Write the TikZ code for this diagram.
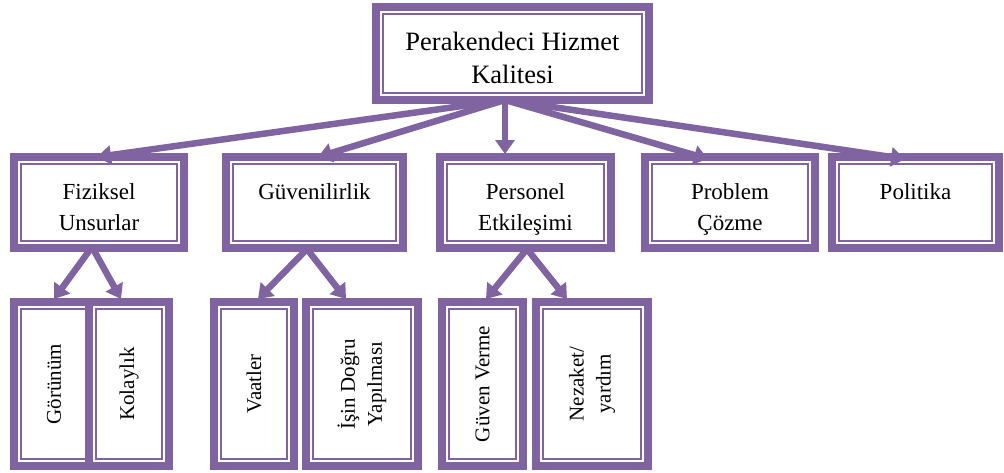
\documentclass[tikz,border=0pt]{standalone}
\usepackage{fontspec}
\setmainfont{Liberation Serif}
\usetikzlibrary{arrows.meta,calc}
\definecolor{pur}{HTML}{8064A2}
\tikzset{
  frame/.style={draw=pur, fill=white, line width=8pt, inner sep=0pt, outer sep=0pt},
  innerline/.style={draw=pur, line width=1.8pt},
  textA/.style={inner sep=0pt, align=center, font=\fontsize{26.5}{33}\selectfont},
  textB/.style={inner sep=0pt, align=center, anchor=north, font=\fontsize{23}{31}\selectfont},
  textC/.style={inner sep=0pt, align=center, rotate=90, font=\fontsize{21}{27}\selectfont},
  link/.style={draw=pur, line width=6.5pt, -{Triangle[width=19pt,length=14pt]}},
}
% framed box: name, left, top, right, bottom (outer edges)
\newcommand\tframe[5]{%
  \node[frame, minimum width={#4-#2-8}, minimum height={#5-#3-8}] (#1) at ({(#2+#4)/2},{(#3+#5)/2}) {};
  \draw[innerline] ([shift={(7,7)}]#1.north west) rectangle ([shift={(-7,-7)}]#1.south east);
}
\begin{document}
\begin{tikzpicture}[x=1pt,y=-1pt]
\useasboundingbox (0,0) rectangle (1004,472);

% root
\tframe{root}{372}{3}{653}{104}
\node[textA] (rootText) at (512.5,57.5) {Perakendeci Hizmet\\Kalitesi};

% second level
\tframe{fiz}{10}{153}{188}{252}
\tframe{guv}{222}{153}{407}{252}
\tframe{per}{436}{153}{615}{252}
\tframe{pro}{641}{153}{819}{252}
\tframe{pol}{828}{153}{1003}{252}
\node[textB] (fizText) at ([shift={(0,26)}]fiz.north) {Fiziksel\\Unsurlar};
\node[textB] (guvText) at ([shift={(0,26)}]guv.north) {Güvenilirlik};
\node[textB] (perText) at ([shift={(0,26)}]per.north) {Personel\\Etkileşimi};
\node[textB] (proText) at ([shift={(0,26)}]pro.north) {Problem\\Çözme};
\node[textB] (polText) at ([shift={(0,26)}]pol.north) {Politika};

% third level
\tframe{gor}{10}{298}{98}{470}
\tframe{kol}{85}{298}{173}{470}
\tframe{vaa}{210}{298}{298}{470}
\tframe{isn}{302}{298}{422}{470}
\tframe{gvr}{438}{298}{527}{470}
\tframe{nez}{532}{298}{652}{470}
\node[textC] (gorText) at (54,384) {Görünüm};
\node[textC] (kolText) at (kol) {Kolaylık};
\node[textC] (vaaText) at (vaa) {Vaatler};
\node[textC] (isnText) at (isn) {İşin Doğru\\Yapılması};
\node[textC] (gvrText) at (gvr) {Güven Verme};
\node[textC] (nezText) at (nez) {Nezaket/\\yardım};

% connectors from the root
\draw[link] ([xshift=-7.5]root.south) -- ([xshift=-2]fiz.north);
\draw[link] ([xshift=-7.5]root.south) -- ([xshift=3.5]guv.north);
\draw[link] ([xshift=-7.5]root.south) -- ([shift={(-20.5,-3)}]per.north);
\draw[link] ([xshift=-7.5]root.south) -- ([shift={(-22,2)}]pro.north);
\draw[link] ([xshift=-7.5]root.south) -- ([shift={(-10.5,2)}]pol.north);

% connectors to the third level
\draw[link] ([shift={(-7,-1)}]fiz.south) -- ([shift={(0,-3)}]gor.north);
\draw[link] ([shift={(-7,-1)}]fiz.south) -- ([shift={(-8,-3)}]kol.north);
\draw[link] ([shift={(-7.5,1)}]guv.south) -- ([shift={(4,-3)}]vaa.north);
\draw[link] ([shift={(-7.5,1)}]guv.south) -- ([shift={(-16,-3)}]isn.north);
\draw[link] ([shift={(1.5,1)}]per.south) -- ([shift={(3.5,-3)}]gvr.north);
\draw[link] ([shift={(1.5,1)}]per.south) -- ([shift={(-25,-3)}]nez.north);
\end{tikzpicture}
\end{document}
